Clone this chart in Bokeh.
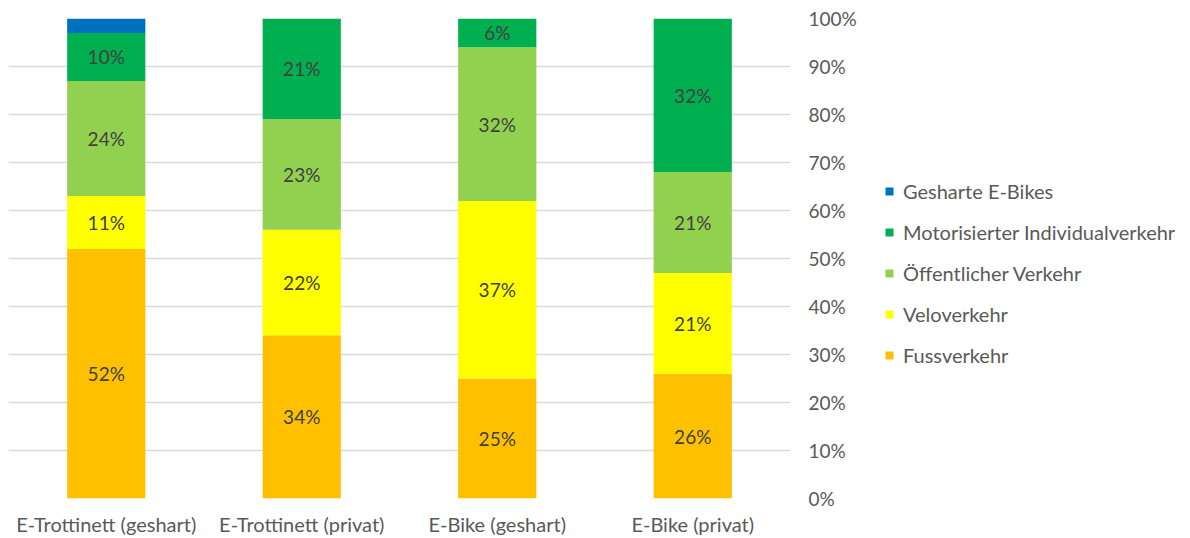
from bokeh.plotting import figure
from bokeh.layouts import row
from bokeh.models import ColumnDataSource, Legend, LegendItem, FactorRange, NumeralTickFormatter, FixedTicker
from bokeh.core.properties import value
from bokeh.embed import file_html
from bokeh.resources import INLINE

categories = ["E-Trottinett (geshart)", "E-Trottinett (privat)", "E-Bike (geshart)", "E-Bike (privat)"]
series_names = ["Fussverkehr", "Veloverkehr", "Öffentlicher Verkehr", "Motorisierter Individualverkehr", "Gesharte E-Bikes"]
fuss = [0.52, 0.34, 0.25, 0.26]
velo = [0.11, 0.22, 0.37, 0.21]
oev = [0.24, 0.23, 0.32, 0.21]
miv = [0.10, 0.21, 0.06, 0.32]
gesharte = [0.03, 0.0, 0.0, 0.0]
colors = ["#FFC000", "#FFFF00", "#92D050", "#00B050", "#0070C0"]
labelled = [True, True, True, True, False]

FONT = "Lato"
GREY = "#595959"
FS = "19px"

keys = ["s0", "s1", "s2", "s3", "s4"]
data = dict(cat=categories)
for k, vals in zip(keys, [fuss, velo, oev, miv, gesharte]):
    data[k] = vals
src = ColumnDataSource(data)

p = figure(x_range=FactorRange(*categories), y_range=(0, 1), width=870, height=538,
           output_backend="svg", toolbar_location=None, y_axis_location="right",
           min_border_left=8, min_border_right=80, min_border_top=18, min_border_bottom=40)
p.x_range.range_padding = 0
p.outline_line_color = None
p.background_fill_color = "white"

renderers = p.vbar_stack(keys, x="cat", width=0.4, source=src, color=colors, line_color=None)

# data labels
lx, ly, lt = [], [], []
for i, c in enumerate(categories):
    base = 0.0
    for j, vals in enumerate([fuss, velo, oev, miv, gesharte]):
        v = vals[i]
        if v > 0 and labelled[j]:
            lx.append(c)
            ly.append(base + v / 2)
            lt.append(f"{round(v * 100)}%")
        base += v
p.text(x=lx, y=ly, text=lt, text_align="center", text_baseline="middle",
       text_font=value(FONT), text_font_size=FS, text_color="#404040")

# axes
p.yaxis.ticker = FixedTicker(ticks=[i / 10 for i in range(11)])
p.yaxis.formatter = NumeralTickFormatter(format="0%")
p.yaxis.axis_line_color = None
p.yaxis.major_tick_line_color = None
p.yaxis.minor_tick_line_color = None
p.yaxis.major_tick_out = 0
p.yaxis.major_label_standoff = 18
p.yaxis.major_label_text_font = FONT
p.yaxis.major_label_text_font_size = FS
p.yaxis.major_label_text_color = GREY

p.xaxis.axis_line_color = None
p.xaxis.major_tick_line_color = None
p.xaxis.major_tick_out = 0
p.xaxis.major_label_standoff = 13
p.xaxis.major_label_text_font = FONT
p.xaxis.major_label_text_font_size = "20px"
p.xaxis.major_label_text_color = GREY

p.xgrid.grid_line_color = None
p.ygrid.ticker = FixedTicker(ticks=[i / 10 for i in range(11)])
p.ygrid.grid_line_color = "#D9D9D9"
p.ygrid.grid_line_width = 1.5

# legend figure (same stacked data with zero-width bars; only its legend is shown)
p2 = figure(width=320, height=538, x_range=FactorRange(*categories), y_range=(5, 6),
            output_backend="svg", toolbar_location=None,
            x_axis_location=None, y_axis_location=None,
            min_border_left=0, min_border_right=0, min_border_top=0, min_border_bottom=0)
p2.grid.visible = False
p2.outline_line_color = None
legend_renderers = p2.vbar_stack(keys, x="cat", width=0.0, source=src, color=colors, line_color=None)

items = [LegendItem(label=series_names[j], renderers=[legend_renderers[j]]) for j in range(4, -1, -1)]
legend = Legend(items=items, location=(14, 131), orientation="vertical",
                glyph_width=10, glyph_height=10, label_text_font=FONT,
                label_text_font_size="20px", label_text_color=GREY,
                label_height=20, spacing=17, label_standoff=9, padding=0, margin=0,
                border_line_color=None, background_fill_alpha=0)
p2.add_layout(legend, "center")

layout = row(p, p2, spacing=0)
open("out.html", "w").write(file_html(layout, INLINE))
